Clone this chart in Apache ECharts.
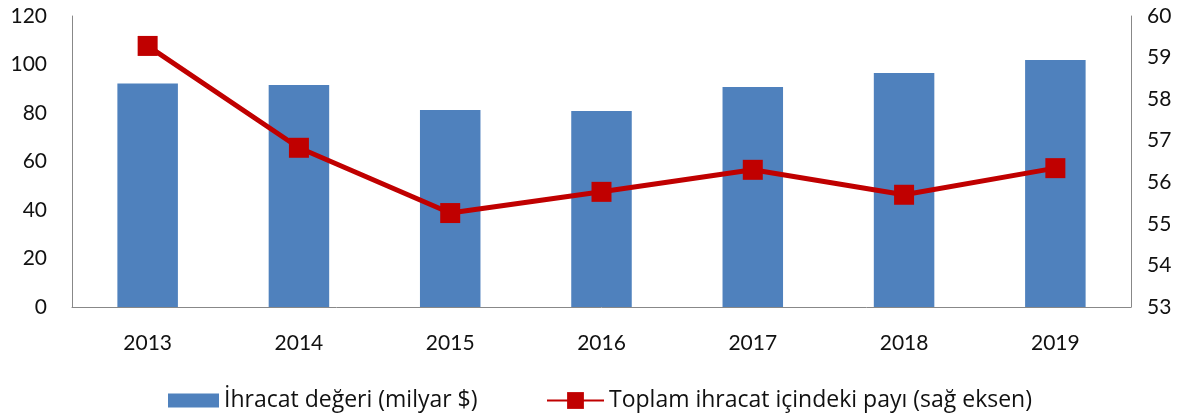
<!DOCTYPE html>
<html>
<head>
<meta charset="utf-8">
<script src="https://cdn.jsdelivr.net/npm/echarts@6/dist/echarts.min.js"></script>
<style>
  html, body { margin: 0; padding: 0; background: #fff; }
  #chart { width: 1190px; height: 414px; }
</style>
</head>
<body>
<div id="chart"></div>
<script>
const years = ['2013', '2014', '2015', '2016', '2017', '2018', '2019'];
const exportValue = [92.2, 91.5, 81.2, 80.8, 90.7, 96.5, 101.9];
const shareOfTotal = [59.28, 56.83, 55.26, 55.77, 56.3, 55.7, 56.34];

const barName = 'İhracat değeri (milyar $)';
const lineName = 'Toplam ihracat içindeki payı (sağ eksen)';

const labelFont = { color: '#111', fontSize: 21, fontFamily: 'Lato' };
const legendFont = { color: '#111', fontSize: 23, fontFamily: 'Open Sans' };

const chart = echarts.init(document.getElementById('chart'), null, { renderer: 'canvas' });

chart.setOption({
    backgroundColor: '#fff',
    animation: false,
    grid: { left: 72, right: 59, top: 16, bottom: 107 },
    legend: [
        {
            top: 384,
            left: 163,
            itemWidth: 51,
            itemHeight: 14,
            itemGap: 0,
            itemTextGap: 5,
            textStyle: legendFont,
            data: [{ name: barName, icon: 'rect' }],
        },
        {
            top: 384,
            left: 541,
            itemWidth: 57,
            itemHeight: 21,
            itemGap: 0,
            itemTextGap: 5,
            textStyle: legendFont,
            data: [{ name: lineName }],
        },
    ],
    xAxis: {
        type: 'category',
        data: years,
        axisLine: { lineStyle: { color: '#888', width: 1 } },
        axisTick: { show: false },
        axisLabel: { ...labelFont, margin: 26 },
    },
    yAxis: [
        {
            type: 'value',
            min: 0,
            max: 120,
            interval: 20,
            splitLine: { show: false },
            axisLine: { show: true, lineStyle: { color: '#888', width: 1 } },
            axisTick: { show: false },
            axisLabel: { ...labelFont, margin: 25 },
        },
        {
            type: 'value',
            min: 53,
            max: 60,
            interval: 1,
            splitLine: { show: false },
            axisLine: { show: true, lineStyle: { color: '#888', width: 1 } },
            axisTick: { show: false },
            axisLabel: { ...labelFont, margin: 16 },
        },
    ],
    series: [
        {
            name: barName,
            type: 'bar',
            data: exportValue,
            barWidth: '40%',
            itemStyle: { color: '#4f81bd' },
        },
        {
            name: lineName,
            type: 'line',
            yAxisIndex: 1,
            data: shareOfTotal,
            symbol: 'rect',
            symbolSize: 20,
            lineStyle: { color: '#c00000', width: 5 },
            itemStyle: { color: '#c00000' },
        },
    ],
});
</script>
</body>
</html>
